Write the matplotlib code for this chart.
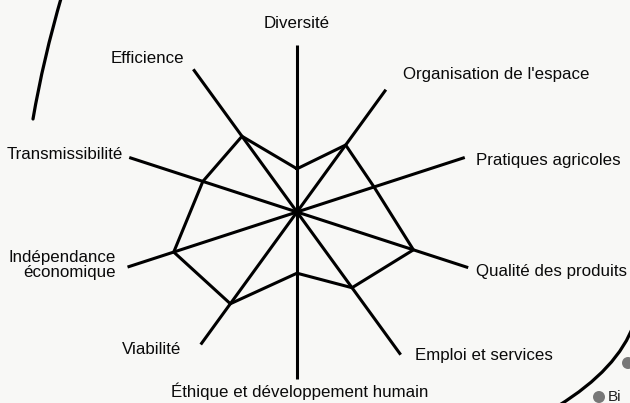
import numpy as np
import matplotlib
matplotlib.use("Agg")
import matplotlib.pyplot as plt
from matplotlib.path import Path
from matplotlib.patches import PathPatch, Circle

plt.rcParams['font.family'] = ['Liberation Sans', 'DejaVu Sans']

# critères, dans le sens des aiguilles d'une montre depuis le haut
criteres = ["Diversité", "Organisation de l'espace", "Pratiques agricoles",
            "Qualité des produits", "Emploi et services",
            "Éthique et développement humain", "Viabilité",
            "Indépendance\néconomique", "Transmissibilité", "Efficience"]
scores = [2.4, 4.6, 4.5, 6.8, 5.2, 3.4, 6.3, 7.2, 5.5, 5.2]
# longueur des rayons (inégale sur l'original)
longueurs = [9.3, 8.4, 9.8, 10.0, 9.8, 9.3, 9.1, 9.9, 9.8, 9.8]

# placement des libellés : ha, va, décalage x, décalage y (pixels)
placement = [("center", "baseline", 0, 17),
             ("left", "baseline", 17, 11),
             ("left", "baseline", 11, -8),
             ("left", "baseline", 8, -8),
             ("left", "baseline", 14, -5),
             ("center", "baseline", 3, -18),
             ("right", "baseline", -19, -9),
             ("right", "center", -12, 2),
             ("right", "baseline", -6, -2),
             ("right", "baseline", -9, 6)]

W, H = 630, 403
fig = plt.figure(figsize=(W / 100, H / 100), dpi=100)
fig.patch.set_facecolor('#f8f8f6')

# éléments de la page scannée autour du graphique
bg = fig.add_axes([0, 0, 1, 1])
bg.set_xlim(0, W)
bg.set_ylim(H, 0)
bg.axis('off')
arc1 = Path([(62, -5), (43, 60), (33, 119)], [Path.MOVETO, Path.CURVE3, Path.CURVE3])
arc2 = Path([(634, 324), (618, 369), (558, 406)], [Path.MOVETO, Path.CURVE3, Path.CURVE3])
for p in (arc1, arc2):
    bg.add_patch(PathPatch(p, fill=False, lw=2.3, color='black', capstyle='round'))
for c in [(628, 363), (599, 397)]:
    bg.add_patch(Circle(c, 6, color='#777777', lw=0))
bg.text(608, 401, "Bi", fontsize=11, color='#222222', ha='left', va='baseline')

# radar
cx, cy, R = 297, 212, 180
ax = fig.add_axes([(cx - R) / W, (H - cy - R) / H, 2 * R / W, 2 * R / H],
                  projection='polar')
ax.set_facecolor('none')
ax.set_theta_offset(np.pi / 2)
ax.set_theta_direction(-1)
ax.set_ylim(0, 10)
ax.grid(False)
ax.set_xticks([])
ax.set_yticks([])
ax.spines['polar'].set_visible(False)

n = len(criteres)
angles = np.arange(n) * 2 * np.pi / n

for a, L in zip(angles, longueurs):
    ax.plot([a, a], [0, L], color='black', lw=2.2, solid_capstyle='butt', clip_on=False)

ax.plot(np.append(angles, angles[0]), scores + scores[:1], color='black', lw=2.2,
        solid_joinstyle='miter', clip_on=False)

for a, L, lab, (ha, va, dx, dy) in zip(angles, longueurs, criteres, placement):
    ax.annotate(lab, xy=(a, L), xytext=(dx, dy), textcoords='offset pixels',
                ha=ha, va=va, ma='right', fontsize=12.2, color='#0a0a0a',
                linespacing=1.0, annotation_clip=False)

fig.savefig("out.png", dpi=100, facecolor=fig.get_facecolor())
